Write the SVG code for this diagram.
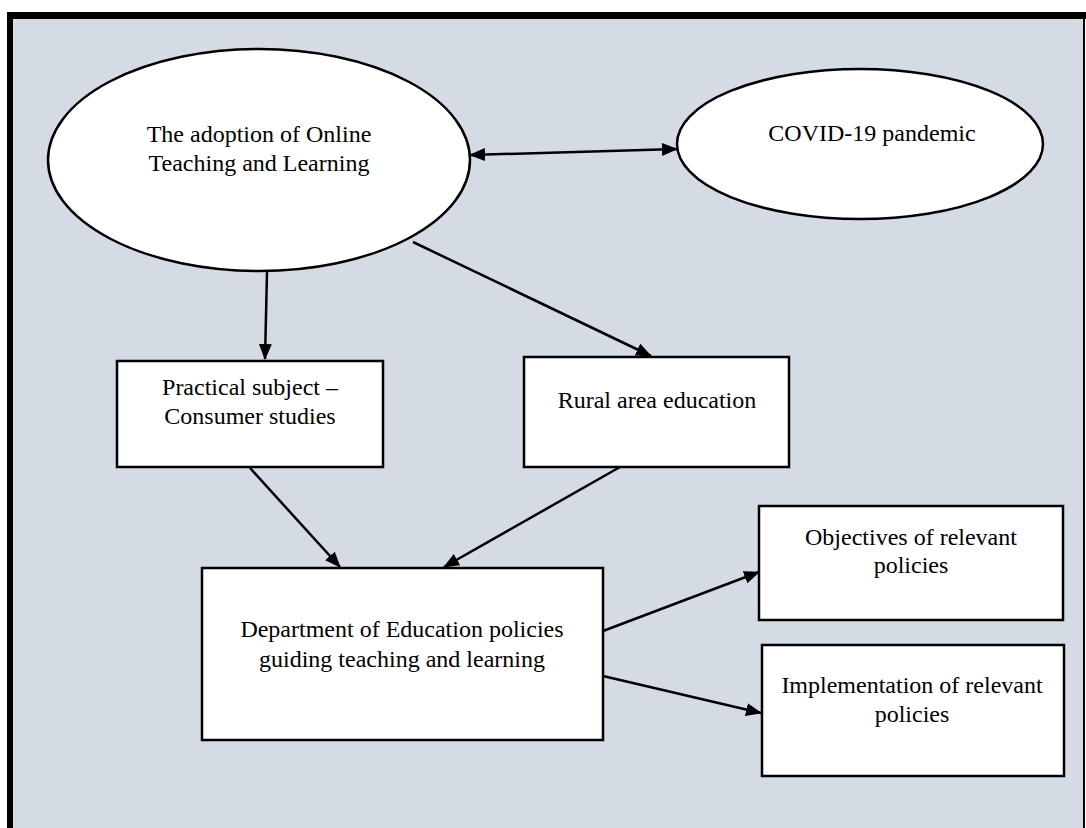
<svg xmlns="http://www.w3.org/2000/svg" width="1086" height="828" viewBox="0 0 1086 828">
  <defs>
    <marker id="arrow" viewBox="0 0 16 13" refX="15" refY="6.5" markerWidth="16" markerHeight="13" markerUnits="userSpaceOnUse" orient="auto-start-reverse">
      <path d="M0,0 L16,6.5 L0,13 Z" fill="#000"/>
    </marker>
    <style>
      .node { fill: #fff; stroke: #000; stroke-width: 2.5; }
      .label { font-family: "Liberation Serif", "Times New Roman", serif; font-size: 24px; fill: #000; text-anchor: middle; }
      .edge { stroke: #000; stroke-width: 2.5; fill: none; marker-end: url(#arrow); }
    </style>
  </defs>

  <!-- page frame -->
  <rect x="0" y="0" width="1086" height="828" fill="#fff"/>
  <rect x="10" y="15" width="1074" height="830" fill="#d5dbe5" stroke="none"/>
  <line x1="7" y1="15.5" x2="1086" y2="15.5" stroke="#000" stroke-width="7"/>
  <line x1="10" y1="12" x2="10" y2="828" stroke="#000" stroke-width="6"/>
  <line x1="1084" y1="15" x2="1084" y2="828" stroke="#000" stroke-width="2"/>

  <g id="n-adoption">
    <ellipse class="node" cx="259" cy="160" rx="211" ry="111"/>
    <text class="label" x="259" y="142">The adoption of Online</text>
    <text class="label" x="259" y="171">Teaching and Learning</text>
  </g>

  <g id="n-covid">
    <ellipse class="node" cx="860" cy="144" rx="183" ry="75"/>
    <text class="label" x="872" y="141">COVID-19 pandemic</text>
  </g>

  <g id="n-practical">
    <rect class="node" x="117" y="361" width="266" height="106"/>
    <text class="label" x="250" y="395">Practical subject –</text>
    <text class="label" x="250" y="424">Consumer studies</text>
  </g>

  <g id="n-rural">
    <rect class="node" x="524" y="357" width="265" height="110"/>
    <text class="label" x="657" y="408">Rural area education</text>
  </g>

  <g id="n-department">
    <rect class="node" x="202" y="568" width="401" height="172"/>
    <text class="label" x="402" y="637">Department of Education policies</text>
    <text class="label" x="402" y="667">guiding teaching and learning</text>
  </g>

  <g id="n-objectives">
    <rect class="node" x="759" y="506" width="304" height="114"/>
    <text class="label" x="911" y="545">Objectives of relevant</text>
    <text class="label" x="911" y="573">policies</text>
  </g>

  <g id="n-implementation">
    <rect class="node" x="762" y="645" width="302" height="131"/>
    <text class="label" x="912" y="693">Implementation of relevant</text>
    <text class="label" x="912" y="722">policies</text>
  </g>

  <g id="connectors">
    <line class="edge" x1="470" y1="155" x2="677" y2="149" marker-start="url(#arrow)"/>
    <line class="edge" x1="267" y1="272" x2="265" y2="359"/>
    <line class="edge" x1="413" y1="242" x2="651" y2="356"/>
    <line class="edge" x1="250" y1="468" x2="340" y2="567"/>
    <line class="edge" x1="620" y1="467" x2="444" y2="567"/>
    <line class="edge" x1="603" y1="631" x2="759" y2="572"/>
    <line class="edge" x1="603" y1="676" x2="761" y2="713"/>
  </g>
</svg>
